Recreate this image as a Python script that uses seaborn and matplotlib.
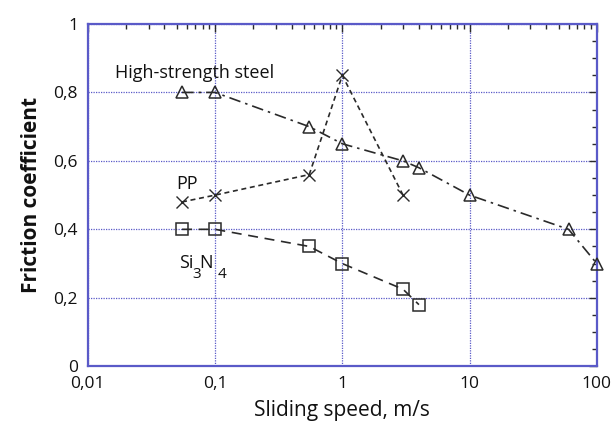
import matplotlib
matplotlib.use("Agg")
import matplotlib.pyplot as plt
import matplotlib.ticker as mticker
import seaborn as sns
import pandas as pd
import numpy as np

steel_speed = [0.055, 0.1, 0.55, 1.0, 3.0, 4.0, 10.0, 60.0, 100.0]
steel_mu = [0.80, 0.80, 0.70, 0.65, 0.60, 0.58, 0.50, 0.40, 0.30]
pp_speed = [0.055, 0.1, 0.55, 1.0, 3.0]
pp_mu = [0.48, 0.50, 0.56, 0.85, 0.50]
si_speed = [0.055, 0.1, 0.55, 1.0, 3.0, 4.0]
si_mu = [0.40, 0.40, 0.35, 0.30, 0.225, 0.18]

x_ticks = [0.01, 0.1, 1, 10, 100]
x_tick_labels = ["0,01", "0,1", "1", "10", "100"]
y_ticks = [0, 0.2, 0.4, 0.6, 0.8, 1.0]
y_tick_labels = ["0", "0,2", "0,4", "0,6", "0,8", "1"]

sns.set_style("white")
plt.rcParams["font.family"] = ["Open Sans", "DejaVu Sans"]

fig = plt.figure(figsize=(6.14, 4.36), dpi=100)
ax = fig.add_axes([0.143, 0.160, 0.829, 0.785])

ink = "#2a2a2a"
blue = "#5a5ac8"

common = dict(ax=ax, color=ink, lw=1.2, markersize=8, sort=False,
              estimator=None, clip_on=False, zorder=3)
sns.lineplot(x=steel_speed, y=steel_mu, linestyle=(0, (7, 3, 1.5, 3)),
             marker="^", markerfacecolor="none", markeredgecolor=ink,
             markeredgewidth=1.1, **common)
sns.lineplot(x=pp_speed, y=pp_mu, linestyle=(0, (3, 2.2)), marker="x",
             markeredgecolor=ink, markeredgewidth=1.0, **common)
sns.lineplot(x=si_speed, y=si_mu, linestyle=(0, (6, 4)), marker="s",
             markerfacecolor="none", markeredgecolor=ink,
             markeredgewidth=1.1, **common)

ax.set_xscale("log")
ax.set_xlim(0.01, 100)
ax.set_ylim(0, 1)
ax.set_xticks(x_ticks)
ax.set_xticklabels(x_tick_labels)
ax.set_yticks(y_ticks)
ax.set_yticklabels(y_tick_labels)
ax.xaxis.set_minor_locator(mticker.LogLocator(base=10, subs=np.arange(2, 10)))
ax.xaxis.set_minor_formatter(mticker.NullFormatter())
ax.yaxis.set_minor_locator(mticker.MultipleLocator(0.05))

ax.tick_params(which="both", direction="in", top=True, right=True,
               color=ink, labelsize=12.5, labelcolor="#111111")
ax.tick_params(which="major", length=6, width=1.0, pad=7)
ax.tick_params(which="minor", length=3.5, width=1.0)

ax.grid(True, which="major", color=blue, linestyle=(0, (1, 1)), linewidth=0.9)
for s in ax.spines.values():
    s.set_color(blue)
    s.set_linewidth(1.6)

ax.set_xlabel("Sliding speed, m/s", fontsize=15, color="#111111", labelpad=6)
ax.set_ylabel("Friction coefficient", fontsize=15, fontweight="bold",
              color="#111111", labelpad=8)

ax.text(0.0163, 0.842, "High-strength steel", fontsize=13, color="#111111")
ax.text(0.050, 0.517, "PP", fontsize=13, color="#111111")
ax.text(0.052, 0.287, "Si", fontsize=13, color="#111111")
ax.text(0.0665, 0.258, "3", fontsize=11, color="#111111")
ax.text(0.0755, 0.287, "N", fontsize=13, color="#111111")
ax.text(0.104, 0.258, "4", fontsize=11, color="#111111")

fig.savefig("out.png", dpi=100)
